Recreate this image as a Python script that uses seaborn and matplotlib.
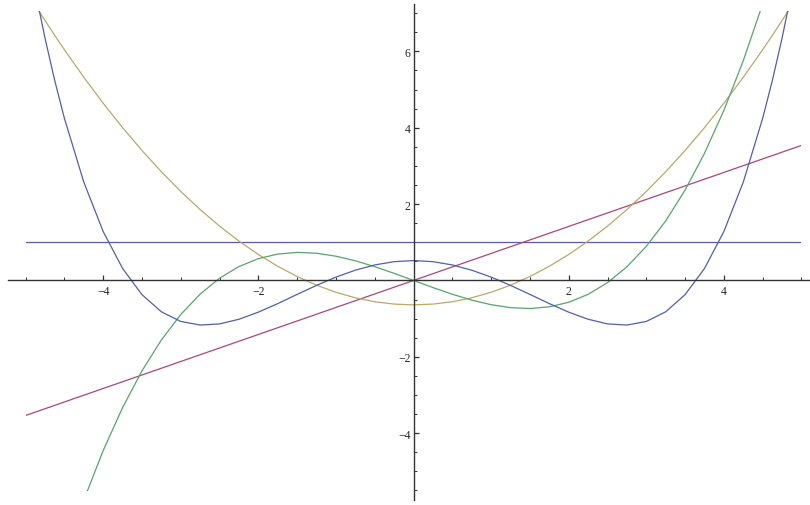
#libraries used
import numpy as np
import pandas as pd
import seaborn as sns
import matplotlib.pyplot as plt
from matplotlib.patches import Rectangle
from matplotlib.ticker import MultipleLocator, FixedLocator

sns.set_style("white")
plt.rcParams['font.family'] = ['Liberation Serif', 'DejaVu Sans']

#values
x_pos = [0.25, 0.5, 0.75, 1.0, 1.25, 1.5, 1.75, 2.0, 2.25, 2.5, 2.75, 3.0, 3.25,
         3.5, 3.75, 4.0, 4.25, 4.5, 4.625, 4.75, 4.875, 5.0]
#quartic (blue), even
quartic_pos = [0.492, 0.406, 0.269, 0.087, -0.129, -0.365, -0.606, -0.830, -1.016,
               -1.138, -1.168, -1.074, -0.821, -0.372, 0.314, 1.281, 2.575, 4.246,
               5.238, 6.346, 7.574, 8.93]
quartic_zero = 0.521
#parabola (yellow), even
parabola_pos = [-0.619, -0.558, -0.454, -0.310, -0.124, 0.103, 0.371, 0.680, 1.031,
                1.423, 1.856, 2.330, 2.846, 3.403, 4.001, 4.640, 5.321, 6.043,
                6.419, 6.806, 7.203, 7.610]
parabola_zero = -0.640
#cubic (green), odd
cubic_pos = [-0.186, -0.361, -0.515, -0.635, -0.712, -0.735, -0.691, -0.571, -0.364,
             -0.058, 0.357, 0.892, 1.558, 2.367, 3.329, 4.454, 5.755, 7.241,
             8.057, 8.924, 9.842, 10.815]
cubic_zero = 0.0
#straight lines
line_x = [-5.0, 5.0]
flat_y = [1.0, 1.0]
slope_y = [-3.536, 3.536]

#full grids (mirror the positive half)
x_grid = [-v for v in x_pos[::-1]] + [0.0] + x_pos
quartic = quartic_pos[::-1] + [quartic_zero] + quartic_pos
parabola = parabola_pos[::-1] + [parabola_zero] + parabola_pos
cubic = [-v for v in cubic_pos[::-1]] + [cubic_zero] + cubic_pos

fig = plt.figure(figsize=(8.1, 5.06), dpi=100)
ax = fig.add_axes([0, 0, 1, 1])

lw = 0.9
sns.lineplot(x=line_x, y=flat_y, color="#5a5ab0", lw=lw, ax=ax)
sns.lineplot(x=line_x, y=slope_y, color="#a8477a", lw=lw, ax=ax)
sns.lineplot(x=x_grid, y=parabola, color="#bba868", lw=lw, ax=ax)
sns.lineplot(x=x_grid, y=cubic, color="#57a46c", lw=lw, ax=ax)
sns.lineplot(x=x_grid, y=quartic, color="#5060aa", lw=lw, ax=ax)

#clip curves to plot range like Mathematica does
clip = Rectangle((-5.0, -5.51), 10.0, 12.56, transform=ax.transData)
for ln in ax.lines:
    ln.set_clip_path(clip)

ax.set_xlim(-5.33, 5.11)
ax.set_ylim(-5.88, 7.37)

#axes through origin
for s in ['top', 'right']:
    ax.spines[s].set_visible(False)
ax.spines['left'].set_position(('data', 0))
ax.spines['bottom'].set_position(('data', 0))
ax.spines['left'].set_bounds(-5.75, 7.24)
ax.spines['bottom'].set_bounds(-5.23, 5.11)
for s in ['left', 'bottom']:
    ax.spines[s].set_color("#333333")
    ax.spines[s].set_linewidth(1.0)

ax.xaxis.set_major_locator(FixedLocator([-4, -2, 2, 4]))
ax.xaxis.set_minor_locator(MultipleLocator(0.5))
ax.yaxis.set_major_locator(FixedLocator([-4, -2, 2, 4, 6]))
ax.yaxis.set_minor_locator(MultipleLocator(0.5))
ax.tick_params(which='both', bottom=True, left=True, direction='in',
               color="#333333", labelsize=8.5, pad=3)
ax.tick_params(which='major', length=3.5, width=0.9)
ax.tick_params(which='minor', length=2.0, width=0.7)
ax.tick_params(axis='y', pad=2)

plt.savefig("out.png", dpi=100)
